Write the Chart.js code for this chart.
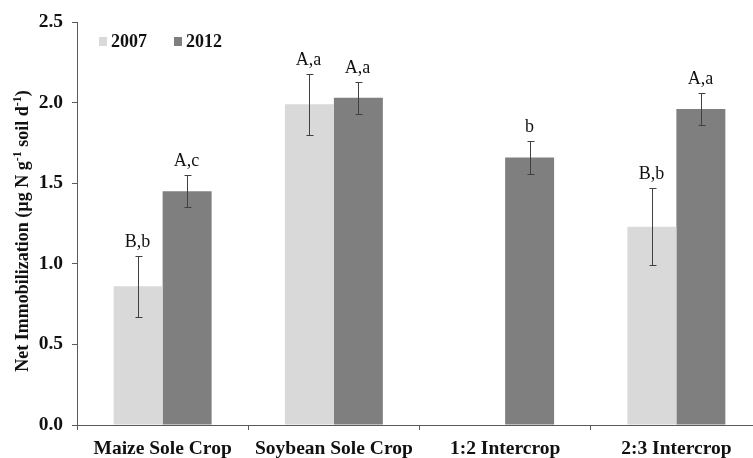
<!DOCTYPE html>
<html>
<head>
<meta charset="utf-8">
<script src="https://cdn.jsdelivr.net/npm/chart.js@4.4.1/dist/chart.umd.min.js"></script>
<style>
  html, body { margin: 0; padding: 0; background: #fff; overflow: hidden; }
  #wrap { width: 753px; height: 458px; overflow: hidden; }
  canvas { display: block; }
</style>
</head>
<body>
<div id="wrap"><canvas id="c" width="770" height="458"></canvas></div>
<script>
// Treatments and measured net immobilization (µg N g-1 soil d-1)
const categories = ['Maize Sole Crop', 'Soybean Sole Crop', '1:2 Intercrop', '2:3 Intercrop'];
const seriesNames = ['2007', '2012'];
const values2007 = [0.86, 1.99, null, 1.23];
const values2012 = [1.45, 2.03, 1.66, 1.96];
const errors2007 = [0.19, 0.19, null, 0.24];
const errors2012 = [0.10, 0.10, 0.10, 0.10];
const letters2007 = ['B,b', 'A,a', '', 'B,b'];
const letters2012 = ['A,c', 'A,a', 'b', 'A,a'];
const yTicks = [0, 0.5, 1.0, 1.5, 2.0, 2.5];

const SERIF = '"Liberation Serif", "Times New Roman", serif';
const AXIS_COLOR = '#5a5a5a';
const colors = ['#d9d9d9', '#7f7f7f'];

const errorsBySeries = [errors2007, errors2012];
const lettersBySeries = [letters2007, letters2012];

// Error bars with caps, and significance letters above them
const errorBarPlugin = {
  id: 'errorBars',
  afterDatasetsDraw(chart) {
    const ctx = chart.ctx;
    const y = chart.scales.y;
    chart.data.datasets.forEach((ds, di) => {
      const meta = chart.getDatasetMeta(di);
      meta.data.forEach((bar, i) => {
        const v = ds.data[i];
        const e = errorsBySeries[di][i];
        if (v == null || e == null) return;
        const x = Math.round(bar.x) + 0.5;
        const yTop = Math.round(y.getPixelForValue(v + e)) + 0.5;
        const yBot = Math.round(y.getPixelForValue(v - e)) + 0.5;
        ctx.save();
        ctx.strokeStyle = '#404040';
        ctx.lineWidth = 1;
        ctx.beginPath();
        ctx.moveTo(x, yTop); ctx.lineTo(x, yBot);
        ctx.moveTo(x - 3, yTop); ctx.lineTo(x + 4, yTop);
        ctx.moveTo(x - 3, yBot); ctx.lineTo(x + 4, yBot);
        ctx.stroke();
        const txt = lettersBySeries[di][i];
        if (txt) {
          ctx.fillStyle = '#111';
          ctx.font = '18px ' + SERIF;
          ctx.textAlign = 'center';
          ctx.textBaseline = 'alphabetic';
          ctx.fillText(txt, x - 1, yTop - 10);
        }
        ctx.restore();
      });
    });
  }
};

// Legend placed inside the plot area, top-left
const insideLegendPlugin = {
  id: 'insideLegend',
  afterDraw(chart) {
    const ctx = chart.ctx;
    const area = chart.chartArea;
    let x = area.left + 22;
    const yBase = area.top + 25;
    ctx.save();
    ctx.font = 'bold 18px ' + SERIF;
    ctx.textBaseline = 'alphabetic';
    ctx.textAlign = 'left';
    chart.data.datasets.forEach((ds) => {
      ctx.fillStyle = ds.backgroundColor;
      ctx.fillRect(x, yBase - 10, 8, 9);
      ctx.fillStyle = '#111';
      ctx.fillText(ds.label, x + 12, yBase);
      x += 75;
    });
    ctx.restore();
  }
};

// Rotated y-axis title with superscript exponents
const yTitlePlugin = {
  id: 'yTitle',
  afterDraw(chart) {
    const ctx = chart.ctx;
    const parts = [
      ['Net Immobilization (\u00b5g N g', false],
      ['-1', true],
      [' soil d', false],
      ['-1', true],
      [')', false]
    ];
    const main = 'bold 18px ' + SERIF;
    const sup = 'bold 12px ' + SERIF;
    ctx.save();
    let total = 0;
    parts.forEach(([t, s]) => { ctx.font = s ? sup : main; total += ctx.measureText(t).width; });
    ctx.translate(28, 231);
    ctx.rotate(-Math.PI / 2);
    ctx.fillStyle = '#111';
    ctx.textBaseline = 'alphabetic';
    ctx.textAlign = 'left';
    let x = -total / 2;
    parts.forEach(([t, s]) => {
      ctx.font = s ? sup : main;
      ctx.fillText(t, x, s ? -7 : 0);
      x += ctx.measureText(t).width;
    });
    ctx.restore();
  }
};

new Chart(document.getElementById('c'), {
  type: 'bar',
  data: {
    labels: categories,
    datasets: [
      { label: seriesNames[0], data: values2007, backgroundColor: colors[0], borderWidth: 0 },
      { label: seriesNames[1], data: values2012, backgroundColor: colors[1], borderWidth: 0 }
    ]
  },
  options: {
    responsive: false,
    animation: false,
    devicePixelRatio: 1,
    layout: { padding: { top: 22, right: 8, left: 0, bottom: 0 } },
    datasets: { bar: { categoryPercentage: 0.572, barPercentage: 1.0 } },
    plugins: { legend: { display: false }, tooltip: { enabled: false } },
    scales: {
      x: {
        afterFit(s) { s.height = 33; },
        grid: { display: true, drawOnChartArea: false, drawTicks: true, tickLength: 5, color: AXIS_COLOR, offset: true },
        border: { display: true, color: AXIS_COLOR, width: 1 },
        ticks: { color: '#111', font: { family: SERIF, size: 19.5, weight: 'bold' }, padding: 7, maxRotation: 0 }
      },
      y: {
        min: 0, max: 2.5,
        afterFit(s) { s.width = 77; },
        afterBuildTicks(s) { s.ticks = yTicks.map(v => ({ value: v })); },
        grid: { display: true, drawOnChartArea: false, drawTicks: true, tickLength: 5, color: AXIS_COLOR },
        border: { display: true, color: AXIS_COLOR, width: 1 },
        ticks: {
          color: '#111', font: { family: SERIF, size: 19.5, weight: 'bold' }, padding: 9,
          callback: v => Number(v).toFixed(1)
        }
      }
    }
  },
  plugins: [errorBarPlugin, insideLegendPlugin, yTitlePlugin]
});
</script>
</body>
</html>
